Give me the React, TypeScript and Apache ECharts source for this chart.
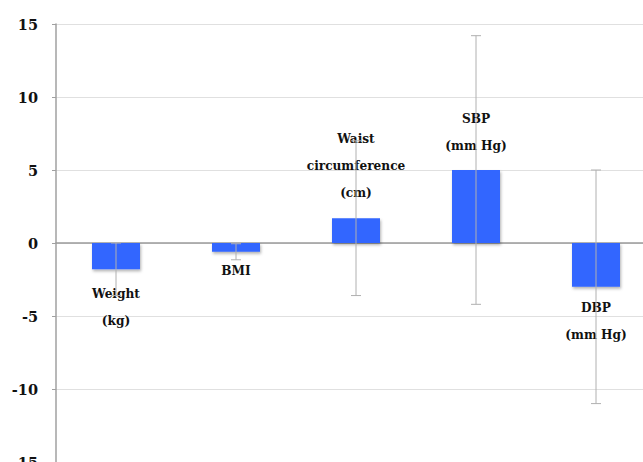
import React, { useEffect, useRef } from "react";
import * as echarts from "echarts";

const categories = ["Weight\n(kg)", "BMI", "Waist\ncircumference\n(cm)", "SBP\n(mm Hg)", "DBP\n(mm Hg)"];
const meanValues = [-1.8, -0.6, 1.7, 5.0, -3.0];
const errorLow = [-3.6, -1.15, -3.6, -4.2, -11.0];
const errorHigh = [0.0, -0.05, 7.0, 14.2, 5.0];
const yTicks = { min: -15, max: 15, interval: 5 };

const LABEL_GAP = [10, 5, 13, 12, 7];

export default function App() {
  const ref = useRef<HTMLDivElement>(null);
  useEffect(() => {
    if (!ref.current) return;
    const chart = echarts.init(ref.current, null, { renderer: "svg" });
    const font = "DejaVu Serif Condensed, DejaVu Serif";
    const barData = meanValues.map((v, i) => ({
      value: v,
      label: {
        show: true,
        position: v >= 0 ? "top" : "bottom",
        distance: LABEL_GAP[i],
        formatter: categories[i],
      },
    }));
    const errData = meanValues.map((_, i) => [i, errorLow[i], errorHigh[i]]);
    chart.setOption({
      animation: false,
      grid: { left: 56, top: 24, width: 600, height: 438, containLabel: false },
      xAxis: {
        type: "category",
        data: categories,
        axisLine: { onZero: true, lineStyle: { color: "#9a9a9a", width: 1.5 } },
        axisTick: { show: false },
        axisLabel: { show: false },
        splitLine: { show: false },
      },
      yAxis: {
        type: "value",
        min: yTicks.min,
        max: yTicks.max,
        interval: yTicks.interval,
        axisLine: { show: true, lineStyle: { color: "#a0a0a0", width: 1.5 } },
        axisTick: { show: true, length: 4, lineStyle: { color: "#a0a0a0" } },
        axisLabel: {
          margin: 18,
          color: "#111",
          fontFamily: "DejaVu Serif",
          fontWeight: "bold",
          fontSize: 14.5,
        },
        splitLine: { show: true, lineStyle: { color: "#e0e0e0", width: 1 } },
      },
      series: [
        {
          type: "bar",
          data: barData,
          barWidth: 48,
          itemStyle: {
            color: "#3366ff",
            shadowBlur: 3,
            shadowOffsetY: 2,
            shadowOffsetX: 1,
            shadowColor: "rgba(0,0,0,0.3)",
          },
          label: {
            color: "#111",
            fontFamily: font,
            fontWeight: "bold",
            fontSize: 13.5,
            lineHeight: 27,
            align: "center",
          },
          z: 2,
        },
        {
          type: "custom",
          data: errData,
          z: 3,
          renderItem: (params: any, api: any) => {
            const x = api.value(0);
            const lo = api.coord([x, api.value(1)]);
            const hi = api.coord([x, api.value(2)]);
            const cap = 5;
            const style = { stroke: "#b0b0b0", lineWidth: 1 };
            return {
              type: "group",
              children: [
                { type: "line", shape: { x1: lo[0], y1: lo[1], x2: hi[0], y2: hi[1] }, style },
                { type: "line", shape: { x1: lo[0] - cap, y1: lo[1], x2: lo[0] + cap, y2: lo[1] }, style },
                { type: "line", shape: { x1: hi[0] - cap, y1: hi[1], x2: hi[0] + cap, y2: hi[1] }, style },
              ],
            };
          },
        },
      ],
    });
    return () => chart.dispose();
  }, []);
  return (
    <div style={{ position: "absolute", left: 0, top: 0, width: 643, height: 462, overflow: "hidden" }}>
      <div ref={ref} style={{ width: 680, height: 480 }} />
    </div>
  );
}
